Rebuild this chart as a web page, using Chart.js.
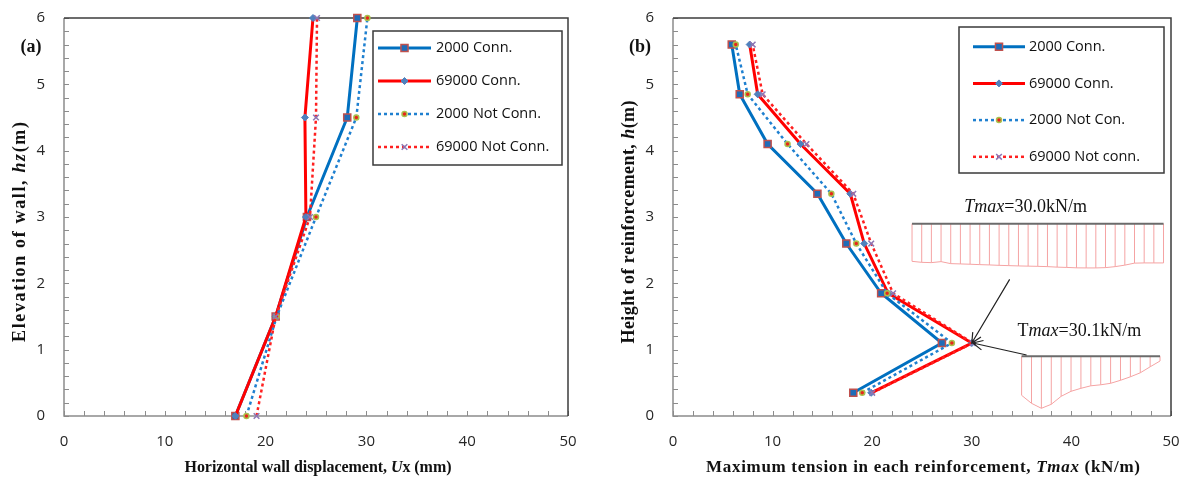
<!DOCTYPE html>
<html>
<head>
<meta charset="utf-8">
<script src="https://cdn.jsdelivr.net/npm/chart.js@4.4.1/dist/chart.umd.min.js"></script>
<style>
  body { margin: 0; background: #fff; }
  #wrap { position: relative; width: 1184px; height: 481px; }
  canvas { position: absolute; top: 0; }
  #left { left: 0; }
  #right { left: 590px; }
</style>
</head>
<body>
<div id="wrap">
  <canvas id="left" width="590" height="481"></canvas>
  <canvas id="right" width="594" height="481"></canvas>
</div>
<script>
// (a) horizontal wall displacement vs elevation
const wallElev = [0, 1.5, 3, 4.5, 6];
const disp2000Conn = [17.0, 21.0, 24.1, 28.1, 29.1];
const disp69000Conn = [17.0, 21.0, 24.0, 23.9, 24.7];
const disp2000NotConn = [18.1, 21.1, 25.0, 29.0, 30.1];
const disp69000NotConn = [19.1, 21.0, 24.4, 25.0, 25.1];
const leftLabels = ['2000 Conn.', '69000 Conn.', '2000 Not Conn.', '69000 Not Conn.'];

// (b) max tension in each reinforcement layer
const reinfHeight = [0.35, 1.1, 1.85, 2.6, 3.35, 4.1, 4.85, 5.6];
const tmax2000Conn = [18.1, 27.0, 20.9, 17.4, 14.5, 9.5, 6.7, 5.9];
const tmax69000Conn = [19.9, 30.0, 21.6, 19.2, 17.8, 12.8, 8.5, 7.7];
const tmax2000NotConn = [19.0, 28.0, 21.5, 18.4, 15.9, 11.5, 7.5, 6.3];
const tmax69000NotConn = [20.0, 30.1, 22.1, 19.9, 18.1, 13.4, 9.0, 8.0];
const rightLabels = ['2000 Conn.', '69000 Conn.', '2000 Not Con.', '69000 Not conn.'];

// axes
const xTicks = [0, 10, 20, 30, 40, 50];
const yTicks = [0, 1, 2, 3, 4, 5, 6];
const xMinorStep = 2;
const yMinorStep = 0.2;

// tension profiles along the reinforcement (inset sketches, depth per hatch line)
const profileTop = [37.7, 38.7, 39, 38, 40, 40.3, 40.6, 41, 41.3, 41.7, 42, 42.3, 42.5, 42.7,
  43, 43.5, 43.8, 44.2, 44.3, 44.3, 44, 43, 41.5, 39.5, 39.3, 39.3, 39.3];
const profileLow = [39, 47, 52, 48, 40, 35, 32, 29.5, 28.5, 27, 24, 20.5, 16.5, 10.5, 4.7];

const series = [
  { color: '#0070C0', dash: [], width: 3, style: 'rect', radius: 5, fill: '#1F6CB8', edge: '#C0504D', edgeW: 1.5 },
  { color: '#FF0000', dash: [], width: 3, style: 'rectRot', radius: 3.5, fill: '#4F81BD', edge: '#4F81BD', edgeW: 1 },
  { color: '#1F80D0', dash: [3, 3], width: 2.5, style: 'circle', radius: 2.5, fill: '#E8261C', edge: '#A9C14C', edgeW: 1.5 },
  { color: '#FF2020', dash: [3, 3], width: 2.5, style: 'crossRot', radius: 4, fill: '#8D76B5', edge: '#8D76B5', edgeW: 1.5 }
];

const SERIF = '"Liberation Serif", "Times New Roman", serif';
const SANS = '"Open Sans", sans-serif';

function makeDatasets(ys, lists, labels) {
  return lists.map((vals, i) => {
    const s = series[i];
    return {
      label: labels[i],
      data: ys.map((y, k) => ({ x: vals[k], y })),
      showLine: true,
      tension: 0,
      clip: false,
      order: lists.length - i,
      borderColor: s.color,
      borderWidth: s.width,
      borderDash: s.dash,
      pointStyle: s.style,
      pointRadius: s.radius,
      pointBackgroundColor: s.fill,
      pointBorderColor: s.edge,
      pointBorderWidth: s.edgeW
    };
  });
}

// text drawn char by char so it can be spread to a given length
function spreadText(ctx, parts, cx, cy, size, bold, target, angle) {
  ctx.save();
  ctx.translate(cx, cy);
  ctx.rotate(angle || 0);
  const font = it => `${it ? 'italic ' : ''}${bold ? 'bold ' : ''}${size}px ${SERIF}`;
  const chars = [];
  parts.forEach(([txt, it]) => {
    ctx.font = font(it);
    for (const ch of txt) chars.push({ ch, it, w: ctx.measureText(ch).width });
  });
  const natural = chars.reduce((s, c) => s + c.w, 0);
  const gap = target ? (target - natural) / (chars.length - 1) : 0;
  let x = -(natural + gap * (chars.length - 1)) / 2;
  ctx.textBaseline = 'middle';
  ctx.textAlign = 'left';
  ctx.fillStyle = '#111';
  chars.forEach(c => {
    ctx.font = font(c.it);
    ctx.fillText(c.ch, x, 0);
    x += c.w + gap;
  });
  ctx.restore();
}

function drawLegend(chart, box, labels) {
  const ctx = chart.ctx;
  ctx.save();
  ctx.fillStyle = '#fff';
  ctx.fillRect(box.x, box.y, box.w, box.h);
  ctx.strokeStyle = '#3a3a3a';
  ctx.lineWidth = 1.5;
  ctx.strokeRect(box.x, box.y, box.w, box.h);
  chart.data.datasets.forEach((ds, i) => {
    const y = box.y + box.first + i * box.gap;
    const x0 = box.x + box.lineX, x1 = x0 + box.lineW;
    ctx.strokeStyle = ds.borderColor;
    ctx.lineWidth = ds.borderWidth;
    ctx.setLineDash(ds.borderDash);
    ctx.beginPath();
    ctx.moveTo(x0, y);
    ctx.lineTo(x1, y);
    ctx.stroke();
    ctx.setLineDash([]);
    ctx.fillStyle = ds.pointBackgroundColor;
    ctx.strokeStyle = ds.pointBorderColor;
    ctx.lineWidth = ds.pointBorderWidth;
    Chart.helpers.drawPoint(ctx, { pointStyle: ds.pointStyle, radius: ds.pointRadius, borderWidth: ds.pointBorderWidth, rotation: 0 }, (x0 + x1) / 2, y);
    ctx.fillStyle = '#111';
    ctx.font = `14.5px ${SANS}`;
    ctx.textBaseline = 'middle';
    ctx.textAlign = 'left';
    ctx.fillText(labels[i], box.x + box.textX, y);
  });
  ctx.restore();
}

function drawProfile(chart, inset) {
  const ctx = chart.ctx;
  const xs = chart.scales.x, ys = chart.scales.y;
  const xa = xs.getPixelForValue(inset.x0), xb = xs.getPixelForValue(inset.x1);
  const y = ys.getPixelForValue(inset.y);
  const step = (xb - xa) / (inset.depth.length - 1);
  ctx.save();
  ctx.strokeStyle = '#f5a3a3';
  ctx.lineWidth = 1;
  inset.depth.forEach((d, i) => {
    ctx.beginPath();
    ctx.moveTo(xa + i * step, y);
    ctx.lineTo(xa + i * step, y + d);
    ctx.stroke();
  });
  ctx.beginPath();
  inset.depth.forEach((d, i) => {
    if (i === 0) ctx.moveTo(xa, y + d); else ctx.lineTo(xa + i * step, y + d);
  });
  ctx.stroke();
  ctx.strokeStyle = '#6b6b6b';
  ctx.lineWidth = 2;
  ctx.beginPath();
  ctx.moveTo(xa, y);
  ctx.lineTo(xb, y);
  ctx.stroke();
  ctx.restore();
}

function drawArrow(ctx, x0, y0, x1, y1) {
  const a = Math.atan2(y1 - y0, x1 - x0);
  ctx.save();
  ctx.strokeStyle = '#222';
  ctx.lineWidth = 1.2;
  ctx.beginPath();
  ctx.moveTo(x0, y0);
  ctx.lineTo(x1, y1);
  ctx.moveTo(x1 - 11 * Math.cos(a - 0.45), y1 - 11 * Math.sin(a - 0.45));
  ctx.lineTo(x1, y1);
  ctx.lineTo(x1 - 11 * Math.cos(a + 0.45), y1 - 11 * Math.sin(a + 0.45));
  ctx.stroke();
  ctx.restore();
}

// axis lines, box and the small inward ticks
const framePlugin = {
  id: 'frame',
  beforeDatasetsDraw(chart) {
    const ctx = chart.ctx;
    const { left, right, top, bottom } = chart.chartArea;
    const xs = chart.scales.x, ys = chart.scales.y;
    ctx.save();
    ctx.strokeStyle = '#8c8c8c';
    ctx.lineWidth = 1;
    const nx = Math.round((xs.max - xs.min) / xMinorStep);
    for (let k = 0; k <= nx; k++) {
      const px = Math.round(xs.getPixelForValue(xs.min + k * xMinorStep)) + 0.5;
      ctx.beginPath(); ctx.moveTo(px, bottom); ctx.lineTo(px, bottom - 5); ctx.stroke();
    }
    const ny = Math.round((ys.max - ys.min) / yMinorStep);
    for (let k = 0; k <= ny; k++) {
      const py = Math.round(ys.getPixelForValue(ys.min + k * yMinorStep)) + 0.5;
      ctx.beginPath(); ctx.moveTo(left, py); ctx.lineTo(left + 5, py); ctx.stroke();
    }
    ctx.lineWidth = 1.5;
    ctx.beginPath();
    ctx.moveTo(left, top); ctx.lineTo(left, bottom); ctx.lineTo(right, bottom);
    ctx.stroke();
    ctx.strokeStyle = '#3c3c3c';
    ctx.beginPath();
    ctx.moveTo(left, top); ctx.lineTo(right, top); ctx.lineTo(right, bottom);
    ctx.stroke();
    ctx.restore();
  }
};

function buildChart(id, ys, lists, labels, cfg) {
  const decor = {
    id: 'decor',
    afterDatasetsDraw(chart) {
      const ctx = chart.ctx;
      spreadText(ctx, [[cfg.tag, 0]], cfg.tagPos[0], cfg.tagPos[1], 18, true, 0, 0);
      spreadText(ctx, cfg.yTitle, cfg.yTitlePos[0], cfg.yTitlePos[1], 18, true, cfg.yTitleLen, -Math.PI / 2);
      spreadText(ctx, cfg.xTitle, cfg.xTitlePos[0], cfg.xTitlePos[1], cfg.xTitleSize, true, cfg.xTitleLen, 0);
      if (cfg.extra) cfg.extra(chart);
      drawLegend(chart, cfg.legend, labels);
    }
  };
  const tickFont = { family: SANS, size: 15 };
  return new Chart(document.getElementById(id), {
    type: 'scatter',
    data: { datasets: makeDatasets(ys, lists, labels) },
    options: {
      responsive: false,
      animation: false,
      devicePixelRatio: 1,
      layout: { padding: { top: 18, right: cfg.padRight, left: 0, bottom: 0 } },
      plugins: { legend: { display: false }, tooltip: { enabled: false } },
      scales: {
        x: {
          type: 'linear',
          min: xTicks[0],
          max: xTicks[xTicks.length - 1],
          afterBuildTicks: s => { s.ticks = xTicks.map(v => ({ value: v })); },
          ticks: { padding: 17, color: '#262626', font: tickFont },
          grid: { display: false, drawTicks: false },
          border: { display: false },
          afterFit: s => { s.height = 65; s.paddingLeft = 0; s.paddingRight = 0; }
        },
        y: {
          type: 'linear',
          min: yTicks[0],
          max: yTicks[yTicks.length - 1],
          afterBuildTicks: s => { s.ticks = yTicks.map(v => ({ value: v })); },
          ticks: { padding: 19, color: '#262626', font: tickFont },
          grid: { display: false, drawTicks: false },
          border: { display: false },
          afterFit: s => { s.width = cfg.axisLeft; s.paddingTop = 0; s.paddingBottom = 0; }
        }
      }
    },
    plugins: [framePlugin, decor]
  });
}

buildChart('left', wallElev, [disp2000Conn, disp69000Conn, disp2000NotConn, disp69000NotConn], leftLabels, {
  padRight: 22,
  axisLeft: 64,
  tag: '(a)',
  tagPos: [31, 47],
  yTitle: [['Elevation of wall, ', 0], ['hz', 1], ['(m)', 0]],
  yTitlePos: [20, 232],
  yTitleLen: 220,
  xTitle: [['Horizontal wall displacement, ', 0], ['U', 1], ['x (mm)', 0]],
  xTitlePos: [318, 468],
  xTitleSize: 16,
  xTitleLen: 267,
  legend: { x: 373, y: 31, w: 189, h: 134, first: 17, gap: 33, lineX: 5, lineW: 53, textX: 63 }
});

buildChart('right', reinfHeight, [tmax2000Conn, tmax69000Conn, tmax2000NotConn, tmax69000NotConn], rightLabels, {
  padRight: 13,
  axisLeft: 83,
  tag: '(b)',
  tagPos: [50, 47],
  yTitle: [['Height of reinforcement, ', 0], ['h', 1], ['(m)', 0]],
  yTitlePos: [39, 222],
  yTitleLen: 243,
  xTitle: [['Maximum tension in each reinforcement, ', 0], ['Tmax', 1], [' (kN/m)', 0]],
  xTitlePos: [333, 468],
  xTitleSize: 17,
  xTitleLen: 434,
  legend: { x: 369, y: 27, w: 205, h: 146, first: 19.7, gap: 36.7, lineX: 14, lineW: 52, textX: 70 },
  extra(chart) {
    const ctx = chart.ctx;
    const xs = chart.scales.x, ys = chart.scales.y;
    drawProfile(chart, { x0: 24.0, x1: 49.25, y: 2.9, depth: profileTop });
    drawProfile(chart, { x0: 35.0, x1: 48.9, y: 0.9, depth: profileLow });
    spreadText(ctx, [['Tmax', 1], ['=' + tmax69000Conn[1].toFixed(1) + 'kN/m', 0]],
      xs.getPixelForValue(35.4), ys.getPixelForValue(3.15), 18, false, 0, 0);
    spreadText(ctx, [['T', 0], ['max', 1], ['=' + tmax69000NotConn[1].toFixed(1) + 'kN/m', 0]],
      xs.getPixelForValue(40.8), ys.getPixelForValue(1.28), 18, false, 0, 0);
    const p1 = chart.getDatasetMeta(1).data[1];
    const p3 = chart.getDatasetMeta(3).data[1];
    drawArrow(ctx, xs.getPixelForValue(33.8), ys.getPixelForValue(2.06), p1.x, p1.y);
    drawArrow(ctx, xs.getPixelForValue(35.5), ys.getPixelForValue(0.92), p3.x, p3.y);
  }
});
</script>
</body>
</html>
